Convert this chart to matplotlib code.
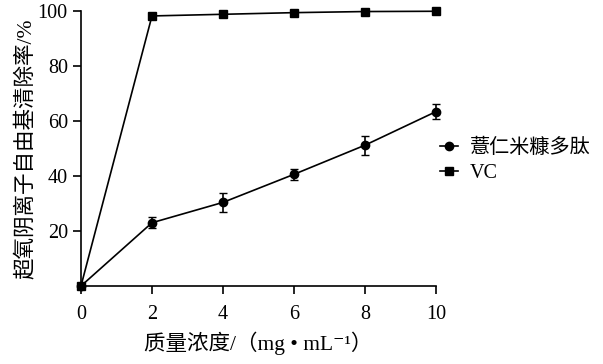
import matplotlib.pyplot as plt
from matplotlib.lines import Line2D

plt.rcParams['font.family'] = ['Liberation Serif', 'Noto Sans CJK SC', 'DejaVu Serif']
plt.rcParams['font.size'] = 14

# data
conc = [0, 2, 4, 6, 8, 10]
peptide = [0, 23.0, 30.4, 40.6, 51.2, 63.4]
peptide_err = [0, 2.0, 3.5, 2.1, 3.4, 2.8]
vc = [0, 98.2, 98.8, 99.4, 99.8, 99.9]

fig = plt.figure(figsize=(6.03, 3.64), dpi=100)
ax = fig.add_axes([0.1343, 0.2143, 0.5887, 0.7555])

ax.errorbar(conc, peptide, yerr=peptide_err, color='black', lw=1.2,
            marker='o', markersize=6, capsize=3, elinewidth=1.2,
            clip_on=False, zorder=3)
ax.plot(conc, vc, color='black', lw=1.2, marker='s', markersize=6,
        clip_on=False, zorder=4)

ax.set_xlim(0, 10)
ax.set_ylim(0, 100)
ax.set_xticks(conc)
ax.set_yticks([20, 40, 60, 80, 100])
ax.spines['top'].set_visible(False)
ax.spines['right'].set_visible(False)
ax.spines['left'].set_linewidth(1.2)
ax.spines['bottom'].set_linewidth(1.2)
ax.tick_params(direction='out', length=6, width=1.2, labelsize=14.5)
ax.tick_params(axis='x', pad=8)
ax.set_xlabel('质量浓度/（mg • mL⁻¹）', fontsize=15.5, labelpad=5)
ax.set_ylabel('超氧阴离子自由基清除率/%', fontsize=15.5, labelpad=1)

handles = [
    Line2D([], [], color='black', lw=1.2, marker='o', markersize=6),
    Line2D([], [], color='black', lw=1.2, marker='s', markersize=6),
]
labels = ['薏仁米糠多肽', 'VC']
ax.legend(handles, labels, loc='center left', bbox_to_anchor=(1.01, 0.455),
          frameon=False, handlelength=0.9, handletextpad=0.6,
          labelspacing=0.3, borderpad=0, borderaxespad=0, fontsize=14.5)

fig.savefig('out.png', dpi=100)
